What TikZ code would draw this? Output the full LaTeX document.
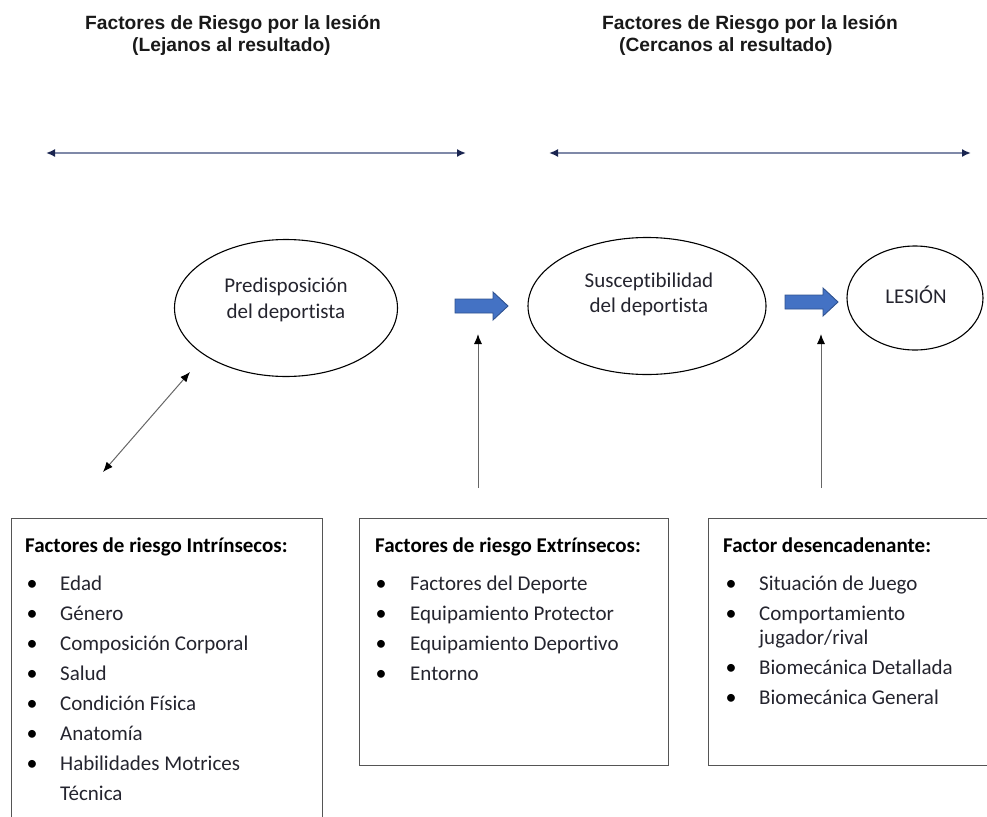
\documentclass[tikz,border=0pt]{standalone}
\usepackage{fontspec}
\setmainfont{Carlito}[Ligatures=NoCommon]
\newfontfamily\hdrfont{Liberation Sans}
\usetikzlibrary{arrows.meta,shapes.geometric}
\definecolor{navyline}{HTML}{7F89A8}
\definecolor{navyhead}{HTML}{1A2550}
\definecolor{blkfill}{HTML}{4472C4}
\definecolor{blkline}{HTML}{2F528F}
\definecolor{boxline}{HTML}{555555}
\definecolor{txt}{HTML}{24242E}
\begin{document}
\begin{tikzpicture}[x=1pt,y=-1pt,
  hdr/.style={font=\hdrfont\bfseries\fontsize{19.2}{21}\selectfont, inner sep=0pt, anchor=base west, text=black!90},
  ell/.style={ellipse, draw=black, line width=1.1pt, inner sep=0pt},
  elltext/.style={font=\fontsize{21}{24}\selectfont, inner sep=0pt, anchor=base, text=txt},
  rangearrow/.style={draw=navyline, line width=1.7pt, {Latex[length=9pt,width=8pt,color=navyhead]}-{Latex[length=9pt,width=8pt,color=navyhead]}},
  thinarrow/.style={draw=black!60, line width=1pt, -{Latex[length=10pt,width=8pt,color=black]}},
  blockarrow/.style={fill=blkfill, draw=blkline, line width=0.9pt},
  factbox/.style={draw=boxline, line width=1.3pt, anchor=north west, inner sep=0pt},
  boxtitle/.style={font=\bfseries\fontsize{21}{24}\selectfont, inner sep=0pt, anchor=base west, text=black},
  item/.style={font=\fontsize{21}{24}\selectfont, inner sep=0pt, anchor=base west, text=txt},
  bul/.style={font=\fontsize{22}{24}\selectfont, inner sep=0pt, anchor=base, text=black}
]
\useasboundingbox (0,0) rectangle (987,816);
\clip (0,0) rectangle (987,816);

% headers
\node[hdr] (h1a) at (85,30) {Factores de Riesgo por la lesión};
\node[hdr] (h1b) at (132,52) {(Lejanos al resultado)};
\node[hdr] (h2a) at (602,30) {Factores de Riesgo por la lesión};
\node[hdr] (h2b) at (619,52) {(Cercanos al resultado)};

% range arrows
\coordinate (ra1) at (46,153);
\coordinate (ra2) at (466,153);
\coordinate (rb1) at (549,153);
\coordinate (rb2) at (971,153);
\draw[rangearrow] (ra1) -- (ra2);
\draw[rangearrow] (rb1) -- (rb2);

% ellipses
\node[ell, minimum width=223pt, minimum height=137pt] (pred) at (286,308) {};
\node[elltext] (predt1) at (286,292) {Predisposición};
\node[elltext] (predt2) at (286,318) {del deportista};

\node[ell, minimum width=238pt, minimum height=137pt] (susc) at (647,306) {};
\node[elltext] (susct1) at (649,287) {Susceptibilidad};
\node[elltext] (susct2) at (649,312) {del deportista};

\node[ell, minimum width=136pt, minimum height=104pt] (lesion) at (915,298) {};
\node[elltext] (lesiont) at (916,303) {LESIÓN};

% block arrows
\coordinate (ba1) at (455,306);
\fill[blockarrow] (ba1) ++(0,-7) -- ++(38,0) -- ++(0,-7) -- ++(15,14) -- ++(-15,14) -- ++(0,-7) -- ++(-38,0) -- cycle;
\coordinate (ba2) at (785,302);
\fill[blockarrow] (ba2) ++(0,-7) -- ++(38,0) -- ++(0,-7) -- ++(15,14) -- ++(-15,14) -- ++(0,-7) -- ++(-38,0) -- cycle;

% thin arrows
\coordinate (v1s) at (478,488);
\coordinate (v1e) at (478,334);
\draw[thinarrow] (v1s) -- (v1e);
\coordinate (v2s) at (821,488);
\coordinate (v2e) at (821,334);
\draw[thinarrow] (v2s) -- (v2e);
\coordinate (d1) at (103,472);
\coordinate (d2) at (190,372);
\draw[thinarrow, {Latex[length=10pt,width=8pt,color=black]}-{Latex[length=10pt,width=8pt,color=black]}] (d1) -- (d2);

% boxes
\node[factbox, minimum width=311pt, minimum height=330pt] (intr) at (11,518) {};
\node[factbox, minimum width=309pt, minimum height=247pt] (extr) at (359,518) {};
\node[factbox, minimum width=300pt, minimum height=247pt] (desc) at (708,518) {};

% box 1
\node[boxtitle] (intrt) at (25,552) {Factores de riesgo Intrínsecos:};
\foreach \y/\t [count=\i] in {590/Edad,620/Género,650/Composición Corporal,680/Salud,710/Condición Física,740/Anatomía,770/Habilidades Motrices}{
  \node[bul] (ib\i) at (32,\y) {•};
  \node[item] (it\i) at (60,\y) {\t};
}
\node[item] (it8) at (60,800) {Técnica};

% box 2
\node[boxtitle] (extrt) at (375,552) {Factores de riesgo Extrínsecos:};
\foreach \y/\t [count=\i] in {590/Factores del Deporte,620/Equipamiento Protector,650/Equipamiento Deportivo,680/Entorno}{
  \node[bul] (eb\i) at (381,\y) {•};
  \node[item] (et\i) at (410,\y) {\t};
}

% box 3
\node[boxtitle] (desct) at (723,552) {Factor desencadenante:};
\foreach \y [count=\i] in {590,620,674,704}{
  \node[bul] (db\i) at (731,\y) {•};
}
\node[item] (dt1) at (759,590) {Situación de Juego};
\node[item] (dt2) at (759,620) {Comportamiento};
\node[item] (dt2b) at (759,644) {jugador/rival};
\node[item] (dt3) at (759,674) {Biomecánica Detallada};
\node[item] (dt4) at (759,704) {Biomecánica General};
\end{tikzpicture}
\end{document}
